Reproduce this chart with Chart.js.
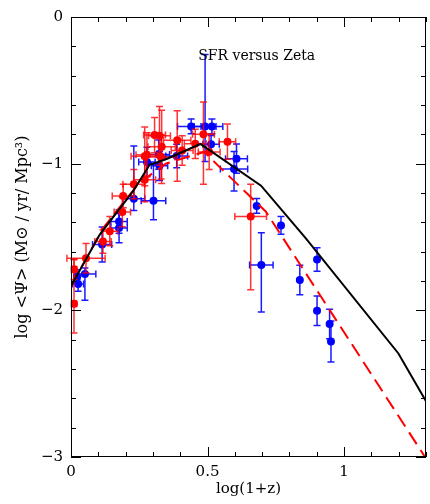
<!DOCTYPE html>
<html>
<head>
<meta charset="utf-8">
<script src="https://cdn.jsdelivr.net/npm/chart.js@4"></script>
<style>
  body { margin: 0; background: #fff; }
  #wrap { width: 430px; height: 504px; }
</style>
</head>
<body>
<div id="wrap"><canvas id="myChart" width="430" height="504"></canvas></div>
<script>
// red points (log(1+z), log SFR) with errors
const redX = [0.011, 0.011, 0.055, 0.117, 0.142, 0.188, 0.191, 0.230, 0.270, 0.270, 0.278, 0.306, 0.324, 0.330, 0.332, 0.389, 0.407, 0.455, 0.485, 0.506, 0.573, 0.658];
const redY = [-1.72, -1.955, -1.645, -1.53, -1.46, -1.33, -1.22, -1.14, -1.11, -0.95, -0.94, -0.805, -0.81, -0.955, -0.885, -0.84, -0.91, -0.865, -0.80, -0.92, -0.85, -1.36];
const redXErr = [0.01, 0.01, 0.07, 0.03, 0.03, 0.03, 0.04, 0.04, 0.04, 0.05, 0.04, 0.04, 0.04, 0.05, 0.05, 0.05, 0.04, 0.04, 0.04, 0.04, 0.03, 0.058];
const redYUp = [0.07, 0.30, 0.10, 0.08, 0.10, 0.10, 0.08, 0.10, 0.15, 0.20, 0.15, 0.12, 0.20, 0.15, 0.25, 0.20, 0.10, 0.10, 0.22, 0.12, 0.12, 0.22];
const redYDn = [0.07, 0.20, 0.10, 0.08, 0.10, 0.10, 0.08, 0.10, 0.15, 0.20, 0.15, 0.12, 0.20, 0.15, 0.25, 0.28, 0.10, 0.10, 0.34, 0.12, 0.12, 0.50];

// blue points
const blueX = [0.022, 0.026, 0.051, 0.114, 0.176, 0.176, 0.230, 0.302, 0.278, 0.321, 0.324, 0.387, 0.440, 0.491, 0.516, 0.513, 0.606, 0.597, 0.680, 0.697, 0.769, 0.838, 0.901, 0.901, 0.947, 0.952];
const blueY = [-1.773, -1.82, -1.752, -1.551, -1.394, -1.439, -1.24, -1.252, -0.988, -0.938, -1.015, -0.947, -0.746, -0.746, -0.746, -0.868, -0.966, -1.037, -1.288, -1.691, -1.421, -1.793, -1.653, -2.003, -2.093, -2.212];
const blueXErr = [0.01, 0.02, 0.04, 0.035, 0.03, 0.03, 0.04, 0.045, 0.03, 0.04, 0.03, 0.04, 0.05, 0.04, 0.04, 0.03, 0.04, 0.05, 0, 0.043, 0, 0, 0, 0, 0, 0];
const blueYUp = [0.05, 0.05, 0.04, 0.12, 0.08, 0.10, 0.36, 0.25, 0.10, 0.10, 0.10, 0.08, 0.05, 0.49, 0.05, 0.06, 0.10, 0.12, 0.05, 0.22, 0.06, 0.10, 0.08, 0.10, 0.10, 0.14];
const blueYDn = [0.05, 0.05, 0.18, 0.12, 0.08, 0.10, 0.08, 0.13, 0.10, 0.10, 0.10, 0.08, 0.05, 0.24, 0.05, 0.06, 0.10, 0.15, 0.05, 0.32, 0.06, 0.10, 0.08, 0.10, 0.10, 0.14];

// model curves
const modelX = [0, 0.106, 0.226, 0.288, 0.350, 0.474, 0.696, 0.860, 1.199, 1.3];
const modelY = [-1.834, -1.482, -1.191, -1.008, -0.968, -0.866, -1.150, -1.509, -2.294, -2.62];
const dashX = [0, 0.117, 0.250, 0.349, 0.488, 0.536, 0.713, 0.871, 1.3];
const dashY = [-1.834, -1.441, -1.13, -0.999, -0.920, -1.008, -1.326, -1.779, -3.01];

const xTicks = [0, 0.5, 1];
const yTicks = [-3, -2, -1, 0];

const toPts = (xs, ys) => xs.map((x, i) => ({ x: x, y: ys[i] }));
const serif = "'DejaVu Serif', serif";

const errorBars = {
  id: "errorBars",
  beforeDatasetDraw(chart, args) {
    const ds = chart.data.datasets[args.index];
    if (!ds.yUp) return;
    const { ctx, scales: { x, y } } = chart;
    ctx.save();
    ctx.strokeStyle = ds.errColor;
    ctx.lineWidth = 1.5;
    const cap = 3.5;
    ds.data.forEach((p, i) => {
      const px = x.getPixelForValue(p.x);
      const py = y.getPixelForValue(p.y);
      const top = y.getPixelForValue(p.y + ds.yUp[i]);
      const bot = y.getPixelForValue(p.y - ds.yDn[i]);
      ctx.beginPath();
      ctx.moveTo(px, top); ctx.lineTo(px, bot);
      ctx.moveTo(px - cap, top); ctx.lineTo(px + cap, top);
      ctx.moveTo(px - cap, bot); ctx.lineTo(px + cap, bot);
      if (ds.xErr[i] > 0) {
        const l = x.getPixelForValue(p.x - ds.xErr[i]);
        const r = x.getPixelForValue(p.x + ds.xErr[i]);
        ctx.moveTo(l, py); ctx.lineTo(r, py);
        ctx.moveTo(l, py - cap); ctx.lineTo(l, py + cap);
        ctx.moveTo(r, py - cap); ctx.lineTo(r, py + cap);
      }
      ctx.stroke();
    });
    ctx.restore();
  }
};

const frame = {
  id: "frame",
  afterDraw(chart) {
    const { ctx, chartArea: a, scales: { x, y } } = chart;
    ctx.save();
    ctx.strokeStyle = "#000";
    ctx.lineWidth = 1;
    ctx.strokeRect(a.left + 0.5, a.top + 0.5, a.width - 1, a.height - 1);
    ctx.beginPath();
    for (let k = 0; k <= 13; k++) {
      const px = Math.round(x.getPixelForValue(k / 10)) + 0.5;
      const len = k % 5 === 0 ? 10 : 5;
      ctx.moveTo(px, a.bottom); ctx.lineTo(px, a.bottom - len);
      ctx.moveTo(px, a.top); ctx.lineTo(px, a.top + len);
    }
    for (let k = -15; k <= 0; k++) {
      const py = Math.round(y.getPixelForValue(k / 5)) + 0.5;
      const len = k % 5 === 0 ? 10 : 5;
      ctx.moveTo(a.left, py); ctx.lineTo(a.left + len, py);
      ctx.moveTo(a.right, py); ctx.lineTo(a.right - len, py);
    }
    ctx.stroke();
    ctx.fillStyle = "#000";
    ctx.font = "14px " + serif;
    ctx.textAlign = "center";
    ctx.textBaseline = "alphabetic";
    ctx.fillText("SFR versus Zeta", x.getPixelForValue(0.68), y.getPixelForValue(-0.291));
    ctx.restore();
  }
};

const ctx = document.getElementById("myChart").getContext("2d");

new Chart(ctx, {
  type: "scatter",
  data: {
    datasets: [
      {
        type: "line",
        data: toPts(modelX, modelY),
        borderColor: "#000",
        borderWidth: 2,
        pointRadius: 0,
        fill: false,
        tension: 0,
        order: 0,
      },
      {
        type: "line",
        data: toPts(dashX, dashY),
        borderColor: "#ff0000",
        borderWidth: 2,
        borderDash: [14, 7],
        pointRadius: 0,
        fill: false,
        tension: 0,
        order: 1,
      },
      {
        data: toPts(redX, redY),
        xErr: redXErr,
        yUp: redYUp,
        yDn: redYDn,
        errColor: "rgba(255,0,0,0.8)",
        backgroundColor: "#ff0000",
        borderWidth: 0,
        pointRadius: 4,
        order: 2,
      },
      {
        data: toPts(blueX, blueY),
        xErr: blueXErr,
        yUp: blueYUp,
        yDn: blueYDn,
        errColor: "rgba(0,0,255,0.9)",
        backgroundColor: "#0000ff",
        borderWidth: 0,
        pointRadius: 4,
        order: 3,
      },
    ],
  },
  options: {
    responsive: false,
    animation: false,
    layout: { padding: { top: 14, right: 3, left: 0, bottom: 0 } },
    plugins: { legend: { display: false }, tooltip: { enabled: false } },
    scales: {
      x: {
        type: "linear",
        min: 0,
        max: 1.3,
        afterBuildTicks: (s) => { s.ticks = xTicks.map((v) => ({ value: v })); },
        afterFit: (s) => { s.height = 47; },
        grid: { display: false, drawTicks: false },
        border: { display: false },
        ticks: {
          color: "#000",
          padding: 6,
          maxRotation: 0,
          font: { family: serif, size: 15 },
          callback: (v) => String(v),
        },
        title: {
          display: true,
          text: "log(1+z)",
          color: "#000",
          font: { family: serif, size: 15 },
          padding: { top: 0, bottom: 6 },
        },
      },
      y: {
        type: "linear",
        min: -3,
        max: 0,
        afterBuildTicks: (s) => { s.ticks = yTicks.map((v) => ({ value: v })); },
        afterFit: (s) => { s.width = 71; },
        grid: { display: false, drawTicks: false },
        border: { display: false },
        ticks: {
          color: "#000",
          padding: 8,
          font: { family: serif, size: 15 },
          callback: (v) => (v < 0 ? "\u2212" + Math.abs(v) : String(v)),
        },
        title: {
          display: true,
          text: "log <\u03A8> (M\u2299 / yr/ Mpc\u00B3)",
          color: "#000",
          font: { family: serif, size: 16 },
          padding: { top: 13, bottom: 0 },
        },
      },
    },
  },
  plugins: [errorBars, frame],
});
</script>
</body>
</html>
